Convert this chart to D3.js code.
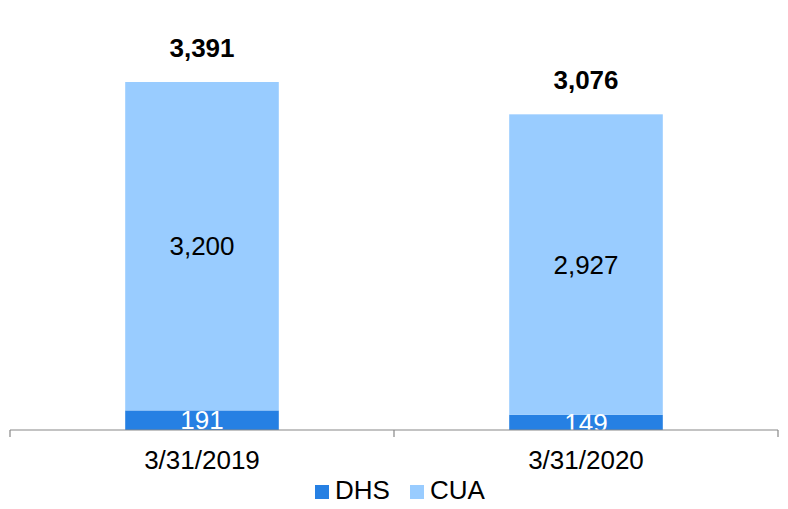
<!DOCTYPE html>
<html><head><meta charset="utf-8">
<script src="https://cdn.jsdelivr.net/npm/d3@7"></script>
<style>body{margin:0;background:#fff}svg{display:block}text{font-family:"Liberation Sans",Arial,sans-serif}</style>
</head><body><svg id="c" width="788" height="509"></svg>
<script>
const categories = ["3/31/2019", "3/31/2020"];
const seriesNames = ["DHS", "CUA"];
const dhs = [191, 149];
const cua = [3200, 2927];
const totals = [3391, 3076];
const colors = ["#2680E3", "#99CCFF"];

const svg = d3.select("#c");
const left = 10, right = 778, baseY = 430;
const FS = 26;
const x = d3.scaleBand().domain(categories).range([left, right]).paddingInner(0).paddingOuter(0);
const y = d3.scaleLinear().domain([0, 3391]).range([baseY, 82]);
const bw = x.bandwidth() * 0.4;
const fmt = d3.format(",");

const rows = categories.map((c, i) => ({cat: c, DHS: dhs[i], CUA: cua[i], total: totals[i]}));
const stacked = d3.stack().keys(seriesNames)(rows);

stacked.forEach((s, si) => {
  svg.append("g").selectAll("rect").data(s).join("rect")
    .attr("x", d => x(d.data.cat) + (x.bandwidth() - bw) / 2)
    .attr("width", bw)
    .attr("y", d => y(d[1]))
    .attr("height", d => y(d[0]) - y(d[1]))
    .attr("fill", colors[si]);
});

// segment labels
stacked.forEach((s, si) => {
  svg.append("g").selectAll("text").data(s).join("text")
    .attr("x", d => x(d.data.cat) + x.bandwidth() / 2)
    .attr("y", d => (y(d[0]) + y(d[1])) / 2 + 9.3)
    .attr("text-anchor", "middle")
    .attr("font-size", FS)
    .attr("fill", si === 0 ? "#fff" : "#000")
    .text(d => fmt(d.data[seriesNames[si]]));
});

// totals
svg.append("g").selectAll("text").data(rows).join("text")
  .attr("x", d => x(d.cat) + x.bandwidth() / 2)
  .attr("y", d => y(d.total) - 25)
  .attr("text-anchor", "middle")
  .attr("font-size", FS)
  .attr("font-weight", "bold")
  .attr("fill", "#000")
  .text(d => fmt(d.total));

// axis
const axisG = svg.append("g").attr("transform", `translate(0,${baseY})`);
axisG.append("line").attr("x1", left).attr("x2", right).attr("stroke", "#888").attr("stroke-width", 1.2);
const tickXs = categories.map(c => x(c)).concat([x(categories[categories.length - 1]) + x.bandwidth()]);
axisG.selectAll("line.t").data(tickXs).join("line").attr("class", "t")
  .attr("x1", d => d).attr("x2", d => d).attr("y1", 0).attr("y2", 7)
  .attr("stroke", "#888").attr("stroke-width", 1.2);
axisG.selectAll("text").data(categories).join("text")
  .attr("x", d => x(d) + x.bandwidth() / 2)
  .attr("y", 39)
  .attr("text-anchor", "middle").attr("font-size", FS).attr("fill", "#000")
  .text(d => d);

// legend
const leg = svg.append("g");
const legX = [315, 410];
seriesNames.forEach((n, i) => {
  leg.append("rect").attr("x", legX[i]).attr("y", 485).attr("width", 14).attr("height", 14).attr("fill", colors[i]);
  leg.append("text").attr("x", legX[i] + 20).attr("y", 499)
    .attr("font-size", FS).attr("fill", "#000").text(n);
});
</script></body></html>
